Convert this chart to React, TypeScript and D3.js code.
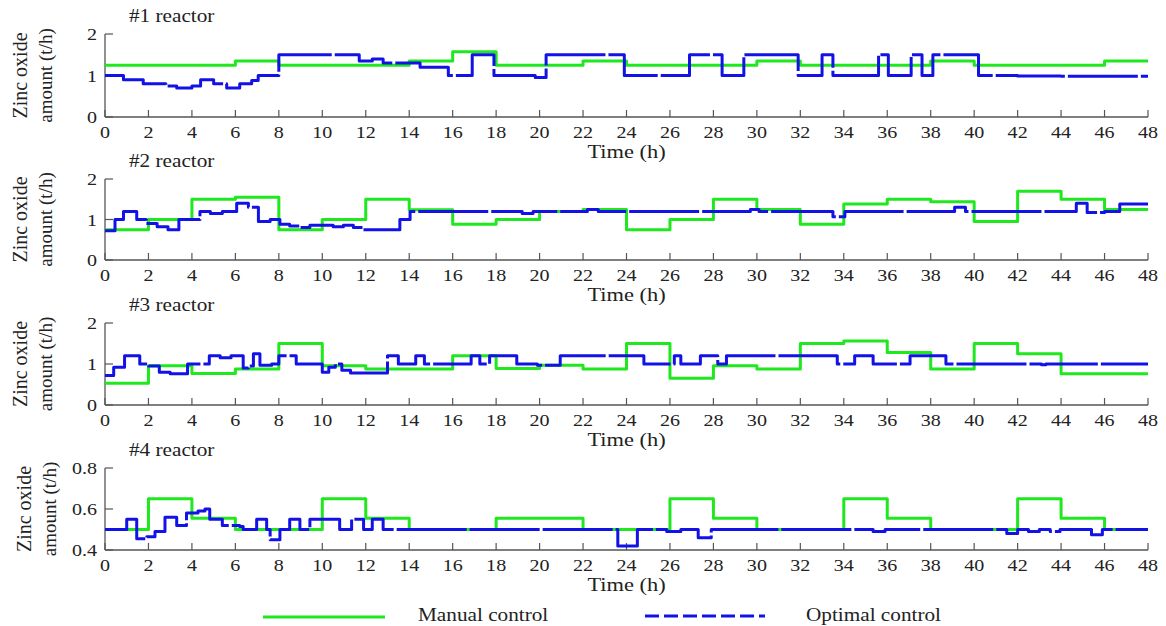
import React from "react";
import * as d3 from "d3";

type Step = [number, number]; // [hour where the level starts, zinc oxide t/h]

// axis values
const hourTicks = d3.range(0, 49, 2);
const reactorNames = ["#1 reactor", "#2 reactor", "#3 reactor", "#4 reactor"];
const yDomains: [number, number][] = [[0, 2], [0, 2], [0, 2], [0.4, 0.8]];
const yTicks = [[0, 1, 2], [0, 1, 2], [0, 1, 2], [0.4, 0.6, 0.8]];
const yFormats = ["d", "d", "d", ".1f"];

// manual control (green)
const manual1: Step[] = [[0, 1.25], [6, 1.35], [8, 1.25], [14, 1.35], [16, 1.57], [18, 1.25], [22, 1.35], [24, 1.25], [30, 1.35], [32, 1.25], [38, 1.35], [40, 1.25], [46, 1.35]];
const manual2: Step[] = [[0, 0.75], [2, 1.0], [4, 1.5], [6, 1.55], [8, 0.75], [10, 1.0], [12, 1.5], [14, 1.24], [16, 0.88], [18, 1.0], [20, 1.2], [22, 1.25], [24, 0.75], [26, 1.0], [28, 1.5], [30, 1.25], [32, 0.88], [34, 1.38], [36, 1.5], [38, 1.44], [40, 0.95], [42, 1.7], [44, 1.5], [46, 1.25]];
const manual3: Step[] = [[0, 0.53], [2, 0.96], [4, 0.77], [6, 0.88], [8, 1.5], [10, 0.96], [12, 0.88], [16, 1.2], [18, 0.89], [20, 0.97], [22, 0.88], [24, 1.5], [26, 0.65], [28, 0.96], [30, 0.88], [32, 1.5], [34, 1.56], [36, 1.28], [38, 0.88], [40, 1.5], [42, 1.25], [44, 0.76]];
const manual4: Step[] = [[0, 0.5], [2, 0.65], [4, 0.555], [6, 0.5], [10, 0.65], [12, 0.555], [14, 0.5], [18, 0.555], [22, 0.5], [26, 0.65], [28, 0.555], [30, 0.5], [34, 0.65], [36, 0.555], [38, 0.5], [42, 0.65], [44, 0.555], [46, 0.5]];

// optimal control (blue)
const optimal1: Step[] = [[0, 1.0], [0.85, 0.9], [1.76, 0.8], [2.8, 0.75], [3.3, 0.7], [4.0, 0.75], [4.4, 0.9], [5.0, 0.8], [5.6, 0.7], [6.2, 0.8], [6.75, 0.88], [7.05, 1.0], [8.0, 1.5], [11.7, 1.35], [12.3, 1.4], [12.8, 1.3], [14.5, 1.2], [15.8, 1.0], [16.9, 1.5], [17.9, 1.0], [19.8, 0.95], [20.3, 1.5], [23.9, 1.0], [26.9, 1.5], [28.4, 1.0], [29.4, 1.5], [31.9, 1.0], [33.0, 1.5], [33.5, 1.0], [35.6, 1.5], [36.05, 1.0], [37.1, 1.5], [37.6, 1.0], [38.1, 1.5], [40.2, 1.0], [42, 0.99], [44, 0.98]];
const optimal2: Step[] = [[0, 0.72], [0.46, 1.0], [0.85, 1.2], [1.46, 1.0], [1.9, 0.9], [2.4, 0.82], [2.9, 0.75], [3.4, 1.0], [4.37, 1.2], [4.85, 1.15], [5.4, 1.2], [6.06, 1.4], [6.6, 1.3], [7.06, 0.95], [7.6, 1.0], [8.05, 0.88], [8.5, 0.84], [8.97, 0.8], [9.43, 0.86], [9.9, 0.86], [10.5, 0.82], [10.97, 0.86], [11.43, 0.8], [11.89, 0.75], [13.57, 1.0], [14.04, 1.2], [19.2, 1.15], [19.7, 1.2], [22.2, 1.25], [22.7, 1.2], [29.7, 1.25], [30.1, 1.2], [33.5, 1.07], [34.05, 1.2], [39.1, 1.3], [39.6, 1.2], [44.7, 1.4], [45.2, 1.17], [46.0, 1.2], [46.7, 1.38]];
const optimal3: Step[] = [[0, 0.72], [0.4, 0.92], [0.9, 1.2], [1.6, 1.0], [2.0, 0.95], [2.5, 0.8], [3.0, 0.76], [3.8, 1.0], [4.8, 1.2], [5.3, 1.15], [5.8, 1.2], [6.36, 0.9], [6.6, 0.95], [6.83, 1.25], [7.13, 0.97], [7.67, 1.0], [8.0, 1.2], [8.8, 1.0], [10.0, 0.8], [10.3, 0.92], [10.6, 1.0], [10.9, 0.85], [11.3, 0.78], [13.0, 1.2], [13.5, 1.0], [14.3, 1.2], [14.7, 1.0], [16.85, 1.2], [17.25, 1.0], [17.7, 1.2], [18.95, 1.0], [19.9, 0.97], [20.95, 1.2], [24.8, 1.0], [26.2, 1.2], [26.5, 1.0], [27.4, 1.2], [28.2, 1.0], [28.6, 1.2], [33.7, 1.0], [34.5, 1.2], [35.35, 1.0], [37.05, 1.2], [38.7, 1.0], [43.1, 0.98], [43.3, 1.0]];
const optimal4: Step[] = [[0, 0.5], [1.0, 0.55], [1.46, 0.455], [1.92, 0.465], [2.3, 0.49], [2.76, 0.56], [3.3, 0.52], [3.75, 0.58], [4.28, 0.59], [4.6, 0.6], [4.82, 0.55], [5.4, 0.52], [6.2, 0.515], [6.36, 0.5], [6.98, 0.55], [7.44, 0.5], [7.6, 0.45], [8.05, 0.5], [8.5, 0.55], [8.97, 0.5], [9.43, 0.55], [10.8, 0.5], [11.35, 0.55], [11.9, 0.5], [12.3, 0.55], [12.8, 0.5], [23.6, 0.42], [24.5, 0.5], [25.85, 0.49], [26.5, 0.5], [27.3, 0.46], [27.9, 0.5], [35.35, 0.49], [35.9, 0.5], [41.5, 0.48], [42.0, 0.5], [42.5, 0.49], [43.0, 0.5], [43.5, 0.49], [43.95, 0.5], [45.4, 0.475], [45.9, 0.5]];

const manualSeries = [manual1, manual2, manual3, manual4];
const optimalSeries = [optimal1, optimal2, optimal3, optimal4];

// layout
const W = 1166;
const H = 626;
const left = 105;
const right = 1148;
const panels = [
  { top: 34, bottom: 117 },
  { top: 179, bottom: 260 },
  { top: 323, bottom: 405 },
  { top: 468, bottom: 550 },
];
const GREEN = "#1fe81f";
const BLUE = "#1212e6";
const INK = "#222";
const FONT = "'Liberation Serif', 'Times New Roman', serif";

const x = d3.scaleLinear().domain([0, 48]).range([left, right]);

function Txt(props: { x: number; y: number; size: number; anchor?: string; children: React.ReactNode }) {
  return (
    <text
      transform={`translate(${props.x},${props.y}) scale(1.18,1)`}
      fontSize={props.size}
      textAnchor={props.anchor || "start"}
      fontFamily={FONT}
      fill={INK}
    >
      {props.children}
    </text>
  );
}

function Panel({ i }: { i: number }) {
  const p = panels[i];
  const y = d3.scaleLinear().domain(yDomains[i]).range([p.bottom, p.top]);
  const fmt = d3.format(yFormats[i]);
  const line = d3
    .line<Step>()
    .x((d) => x(d[0]))
    .y((d) => y(d[1]))
    .curve(d3.curveStepAfter);
  const close = (s: Step[]): Step[] => [...s, [48, s[s.length - 1][1]]];
  const labelShift = i === 3 ? 4 : 0;
  const cy = (p.top + p.bottom) / 2;

  return (
    <g>
      {/* title */}
      <Txt x={129} y={p.top - 12} size={18}>{reactorNames[i]}</Txt>

      {/* y label */}
      <text transform={`translate(${27 + labelShift},${cy}) rotate(-90)`} textAnchor="middle" fontSize={20} fontFamily={FONT} fill={INK}>
        Zinc oxide
      </text>
      <text transform={`translate(${52 + labelShift},${cy}) rotate(-90)`} textAnchor="middle" fontSize={19} fontFamily={FONT} fill={INK}>
        amount (t/h)
      </text>

      {/* axes */}
      <line x1={left} x2={right} y1={p.bottom} y2={p.bottom} stroke="#555" strokeWidth={1.3} />
      <line x1={left} x2={left} y1={p.bottom} y2={p.top} stroke="#555" strokeWidth={1.3} />
      {hourTicks.map((t) => (
        <g key={t}>
          <line x1={x(t)} x2={x(t)} y1={p.bottom} y2={p.bottom - 7} stroke="#555" strokeWidth={1.2} />
          <Txt x={x(t)} y={p.bottom + 21} size={17} anchor="middle">{t}</Txt>
        </g>
      ))}
      {yTicks[i].map((v) => (
        <g key={v}>
          <line x1={left} x2={left + 8} y1={y(v)} y2={y(v)} stroke="#555" strokeWidth={1.2} />
          <Txt x={97} y={y(v) + 6} size={17} anchor="end">{fmt(v)}</Txt>
        </g>
      ))}
      <Txt x={(left + right) / 2} y={p.bottom + 41} size={19} anchor="middle">Time (h)</Txt>

      {/* series */}
      <path d={line(close(manualSeries[i])) || ""} fill="none" stroke={GREEN} strokeWidth={3} strokeLinejoin="round" />
      <path d={line(close(optimalSeries[i])) || ""} fill="none" stroke={BLUE} strokeWidth={3} strokeLinejoin="round" strokeDasharray="70,3" />
    </g>
  );
}

export default function App() {
  return (
    <svg width={W} height={H} style={{ position: "absolute", left: 0, top: 0, background: "#fff" }}>
      <rect width={W} height={H} fill="#fff" />
      {panels.map((_, i) => (
        <Panel key={i} i={i} />
      ))}
      {/* legend */}
      <line x1={263} x2={385} y1={617} y2={617} stroke={GREEN} strokeWidth={3} />
      <Txt x={418} y={621} size={18}>Manual control</Txt>
      <line x1={645} x2={765} y1={616} y2={616} stroke={BLUE} strokeWidth={3} strokeDasharray="14,5" />
      <Txt x={806} y={621} size={18}>Optimal control</Txt>
    </svg>
  );
}
